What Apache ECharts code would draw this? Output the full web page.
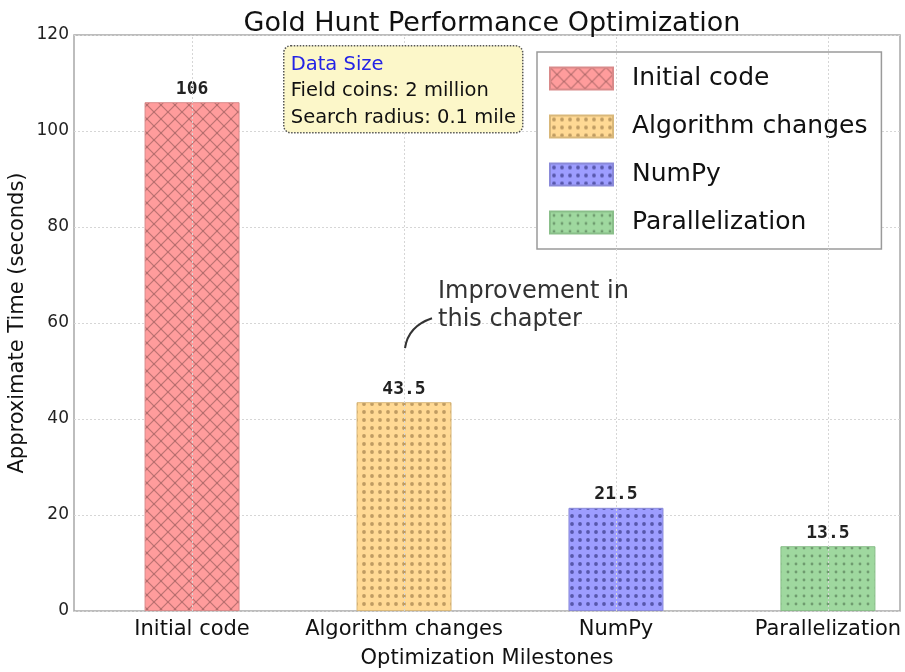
<!DOCTYPE html>
<html>
<head>
<meta charset="utf-8">
<title>Gold Hunt Performance Optimization</title>
<script src="https://cdn.jsdelivr.net/npm/echarts@6/dist/echarts.min.js"></script>
<style>
  html, body { margin: 0; padding: 0; background: #ffffff; }
  #chart { width: 905px; height: 672px; }
</style>
</head>
<body>
<div id="chart"></div>
<script>
// Milestones and measured run times (seconds)
const categories = ['Initial code', 'Algorithm changes', 'NumPy', 'Parallelization'];
const times = [106, 43.5, 21.5, 13.5];
const yTickStep = 20;
const yMax = 120;

const FONT = '"DejaVu Sans", sans-serif';

// Fill patterns for the bars: cross-hatch for the first, dot grids for the rest
function crossHatch(base, ink, size) {
  const c = document.createElement('canvas');
  c.width = size; c.height = size;
  const g = c.getContext('2d');
  g.fillStyle = base; g.fillRect(0, 0, size, size);
  g.strokeStyle = ink; g.lineWidth = 1.2;
  for (const o of [-size, 0, size]) {
    g.beginPath(); g.moveTo(o, 0); g.lineTo(o + size, size); g.stroke();
    g.beginPath(); g.moveTo(o + size, 0); g.lineTo(o, size); g.stroke();
  }
  return { image: c, repeat: 'repeat' };
}
function dotGrid(base, ink, sx, sy, r) {
  const c = document.createElement('canvas');
  c.width = sx; c.height = sy;
  const g = c.getContext('2d');
  g.fillStyle = base; g.fillRect(0, 0, sx, sy);
  g.fillStyle = ink;
  g.beginPath(); g.arc(sx / 2, sy / 2, r, 0, Math.PI * 2); g.fill();
  return { image: c, repeat: 'repeat' };
}

const fills = [
  crossHatch('#ff9c9c', 'rgba(150,90,90,0.65)', 14),
  dotGrid('#ffd994', 'rgba(175,140,85,0.8)', 8, 8, 1.9),
  dotGrid('#9d9dff', 'rgba(70,70,150,0.8)', 8, 8, 1.9),
  dotGrid('#9fd89f', 'rgba(95,135,95,0.75)', 8, 8, 1.4)
];
const edges = ['#d98a8a', '#d9b87a', '#8a8ad9', '#8abf8a'];

const series = categories.map((name, i) => ({
  name: name,
  type: 'bar',
  barWidth: 95,
  barGap: '-100%',
  data: [[i, times[i]]],
  itemStyle: { color: fills[i], borderColor: edges[i], borderWidth: 1 },
  label: {
    show: true,
    position: 'top',
    distance: 4,
    formatter: (p) => String(p.value[1]),
    fontFamily: '"DejaVu Sans Mono", monospace',
    fontWeight: 'bold',
    fontSize: 18,
    color: '#222'
  },
  emphasis: { disabled: true }
}));

// Vertical dotted guide lines at each milestone
series[0].markLine = {
  silent: true,
  symbol: 'none',
  label: { show: false },
  lineStyle: { color: '#d6d6d6', type: [2, 2], width: 1 },
  data: categories.map((c, i) => ({ xAxis: i }))
};

const chart = echarts.init(document.getElementById('chart'), null, { renderer: 'canvas' });

chart.setOption({
  animation: false,
  backgroundColor: '#ffffff',
  title: {
    text: 'Gold Hunt Performance Optimization',
    left: 487,
    textAlign: 'center',
    top: 5,
    textStyle: { fontFamily: FONT, fontSize: 27, fontWeight: 'normal', color: '#111' }
  },
  grid: {
    left: 74, right: 5, top: 35, bottom: 61,
    outerBoundsMode: 'none',
    containLabel: false,
    show: true, borderColor: '#a8a8a8', borderWidth: 1.5,
    backgroundColor: 'transparent'
  },
  legend: {
    orient: 'vertical',
    left: 537, top: 52,
    padding: [14, 14, 14, 12],
    itemWidth: 63, itemHeight: 22, itemGap: 23,
    icon: 'rect',
    backgroundColor: '#ffffff',
    borderColor: '#9a9a9a', borderWidth: 1.5,
    textStyle: { fontFamily: FONT, fontSize: 25, color: '#111', padding: [0, 0, 0, 14] },
    data: categories
  },
  xAxis: {
    type: 'value',
    min: -0.557, max: 3.34,
    name: 'Optimization Milestones',
    nameLocation: 'middle',
    nameGap: 37,
    nameMoveOverlap: false,
    nameTextStyle: { fontFamily: FONT, fontSize: 21, color: '#111' },
    axisLine: { show: false },
    axisTick: { show: false, customValues: [0, 1, 2, 3] },
    splitLine: { show: false },
    axisLabel: {
      customValues: [0, 1, 2, 3],
      formatter: (v) => categories[Math.round(v)],
      fontFamily: FONT, fontSize: 21, color: '#111', margin: 8
    }
  },
  yAxis: {
    type: 'value',
    min: 0, max: yMax, interval: yTickStep,
    name: 'Approximate Time (seconds)',
    nameLocation: 'middle',
    nameGap: 46,
    nameMoveOverlap: false,
    nameTextStyle: { fontFamily: FONT, fontSize: 21, color: '#111' },
    axisLine: { show: false },
    axisTick: { show: false },
    splitLine: { show: true, lineStyle: { color: '#d6d6d6', type: [2, 2], width: 1 } },
    axisLabel: { fontFamily: FONT, fontSize: 17, color: '#222', margin: 5 }
  },
  series: series
});

// Annotation callout pointing at the algorithm-change bar
const top1 = chart.convertToPixel({ xAxisIndex: 0, yAxisIndex: 0 }, [1, times[1]]);
const sx = top1[0] + 1, sy = top1[1] - 54;

chart.setOption({
  graphic: [
    {
      type: 'group',
      left: 283, top: 45,
      z: 10,
      children: [
        {
          type: 'rect', z: 10,
          shape: { x: 0, y: 0, width: 239, height: 87, r: 7 },
          style: { fill: '#fcf7c9', stroke: '#555', lineWidth: 1.5, lineDash: [1.5, 1.5] }
        },
        {
          type: 'text', x: 7, y: 9, z: 11,
          style: { text: 'Data Size', fill: '#2323e6', font: '19.5px ' + FONT }
        },
        {
          type: 'text', x: 7, y: 35, z: 11,
          style: { text: 'Field coins: 2 million', fill: '#111', font: '19.5px ' + FONT }
        },
        {
          type: 'text', x: 7, y: 62, z: 11,
          style: { text: 'Search radius: 0.1 mile', fill: '#111', font: '19.5px ' + FONT }
        }
      ]
    },
    {
      type: 'bezierCurve',
      z: 10,
      shape: { x1: sx, y1: sy, x2: sx + 27, y2: sy - 30, cpx1: sx + 3, cpy1: sy - 22 },
      style: { stroke: '#333', lineWidth: 2, fill: null }
    },
    {
      type: 'text',
      z: 10,
      x: sx + 33, y: sy - 70,
      style: {
        text: 'Improvement in\nthis chapter',
        fill: '#333',
        font: '24px ' + FONT,
        lineHeight: 28
      }
    }
  ]
});
</script>
</body>
</html>
